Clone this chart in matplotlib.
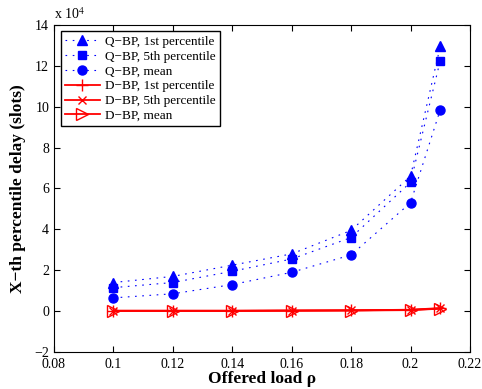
import matplotlib
matplotlib.use("Agg")
import matplotlib.pyplot as plt

plt.rcParams['font.family'] = ['Liberation Serif', 'DejaVu Serif']
plt.rcParams['mathtext.fontset'] = 'stix'

load = [0.1, 0.12, 0.14, 0.16, 0.18, 0.2, 0.21]

# values in units of 1e4 slots
qbp_p1 = [1.4, 1.7, 2.25, 2.8, 3.95, 6.6, 12.95]
qbp_p5 = [1.15, 1.4, 1.95, 2.55, 3.6, 6.3, 12.25]
qbp_mean = [0.65, 0.85, 1.3, 1.9, 2.75, 5.3, 9.85]
dbp_p1 = [0.02, 0.02, 0.02, 0.03, 0.04, 0.07, 0.15]
dbp_p5 = [0.02, 0.02, 0.02, 0.03, 0.04, 0.06, 0.13]
dbp_mean = [0.01, 0.01, 0.01, 0.02, 0.03, 0.05, 0.12]

fig = plt.figure(figsize=(4.82, 3.89), dpi=100)
ax = fig.add_axes([0.112, 0.095, 0.863, 0.841])

dots = (0, (1.5, 5))
ax.plot(load, qbp_p1, linestyle=dots, lw=0.8, color='blue', marker='^', markersize=7,
        label='Q\u2212BP, 1st percentile')
ax.plot(load, qbp_p5, linestyle=dots, lw=0.8, color='blue', marker='s', markersize=5.5,
        label='Q\u2212BP, 5th percentile')
ax.plot(load, qbp_mean, linestyle=dots, lw=0.8, color='blue', marker='o', markersize=6.5,
        label='Q\u2212BP, mean')
ax.plot(load, dbp_p1, '-', lw=1.3, color='red', marker='+', markersize=8,
        label='D\u2212BP, 1st percentile')
ax.plot(load, dbp_p5, '-', lw=1.3, color='red', marker='x', markersize=6,
        label='D\u2212BP, 5th percentile')
ax.plot(load, dbp_mean, '-', lw=1.3, color='red', marker='>', markersize=8,
        markerfacecolor='none', label='D\u2212BP, mean')

ax.set_xlim(0.08, 0.22)
ax.set_ylim(-2, 14)
ax.set_xticks([0.08, 0.1, 0.12, 0.14, 0.16, 0.18, 0.2, 0.22])
ax.set_xticklabels(['0.08', '0.1', '0.12', '0.14', '0.16', '0.18', '0.2', '0.22'])
ax.set_yticks(range(-2, 15, 2))
ax.set_yticklabels(['\u22122'] + [str(v) for v in range(0, 15, 2)])
ax.tick_params(direction='in', top=True, right=True, labelsize=10, length=4)
ax.tick_params(axis='x', pad=4)

ax.text(0.0, 1.01, 'x 10$^{4}$', transform=ax.transAxes, fontsize=10, va='bottom', ha='left')

ax.set_xlabel('Offered load \u03c1', fontsize=12.5, fontweight='bold', labelpad=0)
ax.set_ylabel('X\u2212th percentile delay (slots)', fontsize=12.5, fontweight='bold', labelpad=6)

leg = ax.legend(loc='upper left', fontsize=9.5, fancybox=False, edgecolor='black',
                framealpha=1, handlelength=2.7, borderaxespad=0.5, labelspacing=0.2,
                handletextpad=0.4, borderpad=0.3)
leg.get_frame().set_linewidth(1.0)

fig.savefig('out.png', dpi=100)
